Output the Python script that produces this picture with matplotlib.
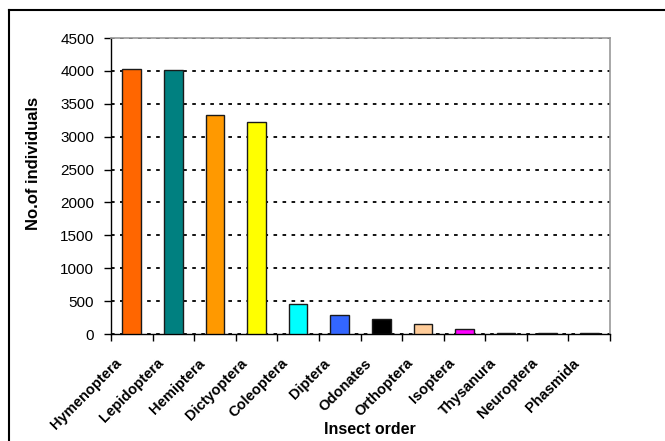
import numpy as np
import matplotlib.pyplot as plt
from matplotlib.lines import Line2D
from matplotlib.transforms import ScaledTranslation

plt.rcParams['font.family'] = ['Liberation Sans', 'DejaVu Sans']

orders = ['Hymenoptera', 'Lepidoptera', 'Hemiptera', 'Dictyoptera', 'Coleoptera',
          'Diptera', 'Odonates', 'Orthoptera', 'Isoptera', 'Thysanura',
          'Neuroptera', 'Phasmida']
counts = [4025, 4010, 3330, 3220, 450, 295, 235, 150, 80, 22, 18, 18]
colors = ['#FF6600', '#008080', '#FF9900', '#FFFF00', '#00FFFF', '#3366FF',
          '#000000', '#FFCC99', '#FF00FF', '#333333', '#333333', '#333333']

fig = plt.figure(figsize=(6.65, 4.41), dpi=100)
ax = fig.add_axes([111 / 665, 1 - 334 / 441, (610 - 111) / 665, (334 - 38) / 441])

x = np.arange(len(orders))
ax.bar(x, counts, width=0.45, color=colors, edgecolor='#1a1a1a', linewidth=1.0, zorder=3)

ax.set_xlim(-0.5, len(orders) - 0.5)
ax.set_ylim(0, 4500)
ax.set_yticks(np.arange(0, 4501, 500))
ax.tick_params(axis='y', labelsize=11, length=5, width=1, direction='out', pad=7)

# x ticks sit on the category boundaries, labels under each bar
ax.set_xticks(np.arange(-0.5, len(orders)), minor=False)
ax.set_xticklabels([])
ax.tick_params(axis='x', which='major', length=5, width=1, direction='out')
ax.set_xticks(x, minor=True)
ax.set_xticklabels(orders, minor=True, rotation=45, ha='right', rotation_mode='anchor',
                   fontsize=10.5, fontweight='bold')
ax.tick_params(axis='x', which='minor', length=0, pad=8)
shift = ScaledTranslation(-17 / 100, -11 / 100, fig.dpi_scale_trans)
for lbl in ax.get_xticklabels(minor=True):
    lbl.set_transform(lbl.get_transform() + shift)

ax.yaxis.grid(True, color='black', linestyle=(0, (2.0, 3.0)), linewidth=1.3, zorder=0)
ax.set_axisbelow(True)

for side in ['top', 'right']:
    ax.spines[side].set_color('#999999')
    ax.spines[side].set_linewidth(1.2)
for side in ['left', 'bottom']:
    ax.spines[side].set_color('black')
    ax.spines[side].set_linewidth(1.0)

ax.set_ylabel('No.of individuals', fontsize=12, fontweight='bold')
ax.yaxis.set_label_coords((34 - 111) / 499, (334 - 163) / 296)
ax.set_xlabel('Insect order', fontsize=11.5, fontweight='bold')
ax.xaxis.set_label_coords((370 - 111) / 499, (334 - 429) / 296)
ax.xaxis.label.set_va('center')
ax.yaxis.label.set_va('center')

# outer chart frame
fig.add_artist(Line2D([8.5 / 665, 8.5 / 665], [0, 1 - 9.5 / 441], color='black', linewidth=1.5,
                      transform=fig.transFigure))
fig.add_artist(Line2D([8.5 / 665, 1], [1 - 9.5 / 441, 1 - 9.5 / 441], color='black', linewidth=1.5,
                      transform=fig.transFigure))

fig.savefig('out.png', dpi=100)
